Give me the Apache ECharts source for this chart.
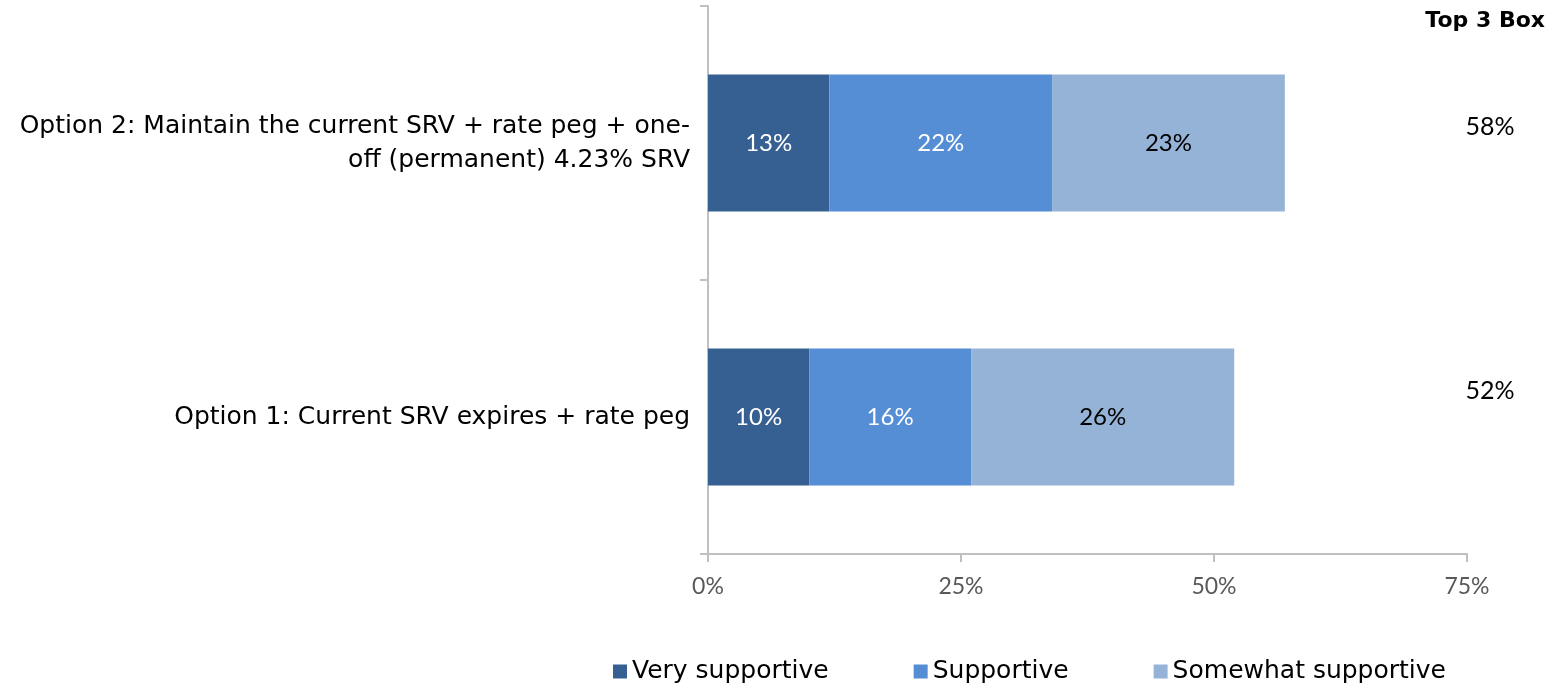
<!DOCTYPE html>
<html>
<head>
<meta charset="utf-8">
<script src="https://cdn.jsdelivr.net/npm/echarts@6/dist/echarts.min.js"></script>
<style>
html,body{margin:0;padding:0;background:#fff;}
#chart{width:1548px;height:685px;}
</style>
</head>
<body>
<div id="chart"></div>
<script>
const categories = [
  'Option 1: Current SRV expires + rate peg',
  'Option 2: Maintain the current SRV + rate peg + one-\noff (permanent) 4.23% SRV'
];
const seriesNames = ['Very supportive', 'Supportive', 'Somewhat supportive'];
const veryValues = [10, 12];
const supportiveValues = [16, 22];
const somewhatValues = [26, 23];
const veryLabels = ['10%', '13%'];
const supportiveLabels = ['16%', '22%'];
const somewhatLabels = ['26%', '23%'];
const top3Labels = ['52%', '58%'];
const xTicks = [0, 25, 50, 75];

const FONT = 'Lato';
const WIDE = 'DejaVu Sans';
const chart = echarts.init(document.getElementById('chart'), null, {renderer: 'canvas'});

function barSeries(name, values, labels, color, labelColor) {
  return {
    name: name,
    type: 'bar',
    stack: 'total',
    barWidth: '50%',
    data: values,
    itemStyle: {color: color},
    label: {
      show: true,
      position: 'inside',
      color: labelColor,
      fontFamily: FONT,
      fontSize: 24,
      formatter: p => labels[p.dataIndex]
    }
  };
}

chart.setOption({
  animation: false,
  textStyle: {fontFamily: FONT},
  title: {
    text: 'Top 3 Box',
    right: 3,
    top: 10,
    padding: 0,
    textStyle: {fontFamily: WIDE, fontSize: 22, fontWeight: 'bold', color: '#000'}
  },
  grid: {left: 708, right: 81, top: 6, bottom: 131, outerBoundsMode: 'none'},
  legend: {
    data: seriesNames,
    left: 608,
    top: 654,
    icon: 'rect',
    itemWidth: 14,
    itemHeight: 14,
    itemGap: 85,
    textStyle: {fontFamily: WIDE, fontSize: 25, color: '#000'}
  },
  xAxis: {
    type: 'value',
    min: xTicks[0],
    max: xTicks[xTicks.length - 1],
    interval: 25,
    splitLine: {show: false},
    axisLine: {show: true, lineStyle: {color: '#c0c0c0', width: 2}},
    axisTick: {show: true, length: 8, lineStyle: {color: '#c0c0c0', width: 2}},
    axisLabel: {formatter: '{value}%', color: '#595959', fontFamily: FONT, fontSize: 23, margin: 21}
  },
  yAxis: [{
    type: 'category',
    data: categories,
    axisLine: {show: true, lineStyle: {color: '#c0c0c0', width: 2}},
    axisTick: {show: true, length: 8, lineStyle: {color: '#c0c0c0', width: 2}},
    axisLabel: {color: '#000', fontFamily: WIDE, fontSize: 25, margin: 18, lineHeight: 34, align: 'right', padding: [6, 0, 0, 0]}
  }, {
    type: 'category',
    data: categories,
    position: 'right',
    axisLine: {show: false},
    axisTick: {show: false},
    axisLabel: {
      margin: 23,
      align: 'center',
      formatter: (v, i) => '{' + (i === 0 ? 'a' : 'b') + '|' + top3Labels[i] + '}',
      rich: {
        a: {fontFamily: FONT, fontSize: 25, color: '#000', padding: [0, 0, 52, 0]},
        b: {fontFamily: FONT, fontSize: 25, color: '#000', padding: [0, 0, 32, 0]}
      }
    }
  }],
  series: [
    barSeries(seriesNames[0], veryValues, veryLabels, '#366092', '#fff'),
    barSeries(seriesNames[1], supportiveValues, supportiveLabels, '#558ED5', '#fff'),
    barSeries(seriesNames[2], somewhatValues, somewhatLabels, '#95B3D7', '#000')
  ]
});
</script>
</body>
</html>
